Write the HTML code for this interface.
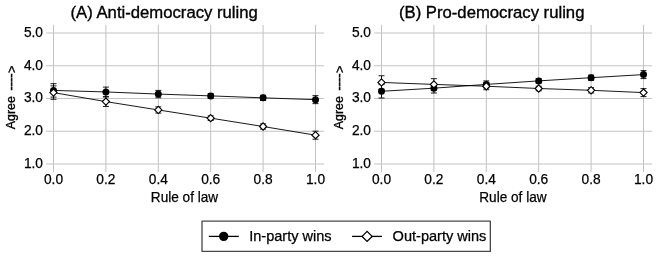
<!DOCTYPE html>
<html><head><meta charset="utf-8"><title>Figure</title>
<style>
html,body{margin:0;padding:0;background:#fff;overflow:hidden}
svg{display:block}
text{font-family:"Liberation Sans",sans-serif;fill:#000}
.g{stroke:#c3c3c3;stroke-width:1;fill:none}
.t{font-size:14.0px}
.a{font-size:14.5px}
.ya{font-size:12.7px;stroke-width:0.35px}
.ti{font-size:16.7px;stroke-width:0.35px}
.lg{font-size:14.55px}
text{stroke:#000;stroke-width:0.25px}
.ll{stroke:#000;stroke-width:1.3;fill:none}
.ld{stroke:#000;stroke-width:1.3;fill:#fff}
.l{stroke:#000;stroke-width:0.9;fill:none}
.e{stroke:#000;stroke-width:0.9;fill:none}
.d{stroke:#000;stroke-width:1.15;fill:#fff}
</style></head><body>
<svg width="657" height="256" viewBox="0 0 657 256">
<rect width="657" height="256" fill="#fff"/>
<line x1="46.00" y1="33.00" x2="324.00" y2="33.00" class="g"/>
<line x1="46.00" y1="65.75" x2="324.00" y2="65.75" class="g"/>
<line x1="46.00" y1="98.50" x2="324.00" y2="98.50" class="g"/>
<line x1="46.00" y1="131.25" x2="324.00" y2="131.25" class="g"/>
<line x1="46.00" y1="164.00" x2="324.00" y2="164.00" class="g"/>
<line x1="53.50" y1="24.80" x2="53.50" y2="172.10" class="g"/>
<line x1="105.90" y1="24.80" x2="105.90" y2="172.10" class="g"/>
<line x1="158.30" y1="24.80" x2="158.30" y2="172.10" class="g"/>
<line x1="210.70" y1="24.80" x2="210.70" y2="172.10" class="g"/>
<line x1="263.10" y1="24.80" x2="263.10" y2="172.10" class="g"/>
<line x1="315.50" y1="24.80" x2="315.50" y2="172.10" class="g"/>
<text x="43.00" y="36.95" class="t" text-anchor="end" textLength="19.1" lengthAdjust="spacingAndGlyphs">5.0</text>
<text x="43.00" y="69.70" class="t" text-anchor="end" textLength="19.1" lengthAdjust="spacingAndGlyphs">4.0</text>
<text x="43.00" y="102.45" class="t" text-anchor="end" textLength="19.1" lengthAdjust="spacingAndGlyphs">3.0</text>
<text x="43.00" y="135.20" class="t" text-anchor="end" textLength="19.1" lengthAdjust="spacingAndGlyphs">2.0</text>
<text x="43.00" y="167.95" class="t" text-anchor="end" textLength="19.1" lengthAdjust="spacingAndGlyphs">1.0</text>
<text x="53.50" y="183.65" class="t" text-anchor="middle" textLength="19.1" lengthAdjust="spacingAndGlyphs">0.0</text>
<text x="105.90" y="183.65" class="t" text-anchor="middle" textLength="19.1" lengthAdjust="spacingAndGlyphs">0.2</text>
<text x="158.30" y="183.65" class="t" text-anchor="middle" textLength="19.1" lengthAdjust="spacingAndGlyphs">0.4</text>
<text x="210.70" y="183.65" class="t" text-anchor="middle" textLength="19.1" lengthAdjust="spacingAndGlyphs">0.6</text>
<text x="263.10" y="183.65" class="t" text-anchor="middle" textLength="19.1" lengthAdjust="spacingAndGlyphs">0.8</text>
<text x="315.50" y="183.65" class="t" text-anchor="middle" textLength="19.1" lengthAdjust="spacingAndGlyphs">1.0</text>
<text x="184.50" y="201.75" class="a" text-anchor="middle" textLength="67.3" lengthAdjust="spacingAndGlyphs">Rule of law</text>
<text transform="translate(15.40,0) rotate(-90)" class="ya"><tspan x="-129.3" textLength="33.2" lengthAdjust="spacingAndGlyphs" style="font-size:13.2px">Agree</tspan> <tspan x="-90.4" dy="-0.9" style="stroke-width:0.5px">----</tspan><tspan x="-72.9" dy="1.4">&gt;</tspan></text>
<text x="164.20" y="17.6" class="ti" text-anchor="middle">(A) Anti-democracy ruling</text>
<path d="M53.50 83.70V97.12M50.50 83.70H56.50M50.50 97.12H56.50" class="e"/>
<path d="M105.90 87.10V96.80M102.90 87.10H108.90M102.90 96.80H108.90" class="e"/>
<path d="M158.30 90.41V97.75M155.30 90.41H161.30M155.30 97.75H161.30" class="e"/>
<path d="M210.70 93.59V98.17M207.70 93.59H213.70M207.70 98.17H213.70" class="e"/>
<path d="M263.10 95.22V100.47M260.10 95.22H266.10M260.10 100.47H266.10" class="e"/>
<path d="M315.50 95.65V103.64M312.50 95.65H318.50M312.50 103.64H318.50" class="e"/>
<polyline points="53.50,90.41 105.90,91.95 158.30,94.08 210.70,95.88 263.10,97.84 315.50,99.65" class="l"/>
<circle cx="53.50" cy="90.41" r="3.5" fill="#000"/>
<circle cx="105.90" cy="91.95" r="3.5" fill="#000"/>
<circle cx="158.30" cy="94.08" r="3.5" fill="#000"/>
<circle cx="210.70" cy="95.88" r="3.5" fill="#000"/>
<circle cx="263.10" cy="97.84" r="3.5" fill="#000"/>
<circle cx="315.50" cy="99.65" r="3.5" fill="#000"/>
<path d="M53.50 85.89V99.32M50.50 85.89H56.50M50.50 99.32H56.50" class="e"/>
<path d="M105.90 96.76V106.46M102.90 96.76H108.90M102.90 106.46H108.90" class="e"/>
<path d="M158.30 106.85V113.07M155.30 106.85H161.30M155.30 113.07H161.30" class="e"/>
<path d="M210.70 115.86V120.44M207.70 115.86H213.70M207.70 120.44H213.70" class="e"/>
<path d="M263.10 123.88V129.12M260.10 123.88H266.10M260.10 129.12H266.10" class="e"/>
<path d="M315.50 131.18V139.18M312.50 131.18H318.50M312.50 139.18H318.50" class="e"/>
<polyline points="53.50,92.60 105.90,101.61 158.30,109.96 210.70,118.15 263.10,126.50 315.50,135.18" class="l"/>
<path d="M53.50 89.00L57.10 92.60L53.50 96.20L49.90 92.60Z" class="d"/>
<path d="M105.90 98.01L109.50 101.61L105.90 105.21L102.30 101.61Z" class="d"/>
<path d="M158.30 106.36L161.90 109.96L158.30 113.56L154.70 109.96Z" class="d"/>
<path d="M210.70 114.55L214.30 118.15L210.70 121.75L207.10 118.15Z" class="d"/>
<path d="M263.10 122.90L266.70 126.50L263.10 130.10L259.50 126.50Z" class="d"/>
<path d="M315.50 131.58L319.10 135.18L315.50 138.78L311.90 135.18Z" class="d"/>
<line x1="374.00" y1="33.00" x2="652.00" y2="33.00" class="g"/>
<line x1="374.00" y1="65.75" x2="652.00" y2="65.75" class="g"/>
<line x1="374.00" y1="98.50" x2="652.00" y2="98.50" class="g"/>
<line x1="374.00" y1="131.25" x2="652.00" y2="131.25" class="g"/>
<line x1="374.00" y1="164.00" x2="652.00" y2="164.00" class="g"/>
<line x1="381.50" y1="24.80" x2="381.50" y2="172.10" class="g"/>
<line x1="433.90" y1="24.80" x2="433.90" y2="172.10" class="g"/>
<line x1="486.30" y1="24.80" x2="486.30" y2="172.10" class="g"/>
<line x1="538.70" y1="24.80" x2="538.70" y2="172.10" class="g"/>
<line x1="591.10" y1="24.80" x2="591.10" y2="172.10" class="g"/>
<line x1="643.50" y1="24.80" x2="643.50" y2="172.10" class="g"/>
<text x="371.00" y="36.95" class="t" text-anchor="end" textLength="19.1" lengthAdjust="spacingAndGlyphs">5.0</text>
<text x="371.00" y="69.70" class="t" text-anchor="end" textLength="19.1" lengthAdjust="spacingAndGlyphs">4.0</text>
<text x="371.00" y="102.45" class="t" text-anchor="end" textLength="19.1" lengthAdjust="spacingAndGlyphs">3.0</text>
<text x="371.00" y="135.20" class="t" text-anchor="end" textLength="19.1" lengthAdjust="spacingAndGlyphs">2.0</text>
<text x="371.00" y="167.95" class="t" text-anchor="end" textLength="19.1" lengthAdjust="spacingAndGlyphs">1.0</text>
<text x="381.50" y="183.65" class="t" text-anchor="middle" textLength="19.1" lengthAdjust="spacingAndGlyphs">0.0</text>
<text x="433.90" y="183.65" class="t" text-anchor="middle" textLength="19.1" lengthAdjust="spacingAndGlyphs">0.2</text>
<text x="486.30" y="183.65" class="t" text-anchor="middle" textLength="19.1" lengthAdjust="spacingAndGlyphs">0.4</text>
<text x="538.70" y="183.65" class="t" text-anchor="middle" textLength="19.1" lengthAdjust="spacingAndGlyphs">0.6</text>
<text x="591.10" y="183.65" class="t" text-anchor="middle" textLength="19.1" lengthAdjust="spacingAndGlyphs">0.8</text>
<text x="643.50" y="183.65" class="t" text-anchor="middle" textLength="19.1" lengthAdjust="spacingAndGlyphs">1.0</text>
<text x="512.90" y="201.75" class="a" text-anchor="middle" textLength="67.3" lengthAdjust="spacingAndGlyphs">Rule of law</text>
<text transform="translate(343.40,0) rotate(-90)" class="ya"><tspan x="-129.3" textLength="33.2" lengthAdjust="spacingAndGlyphs" style="font-size:13.2px">Agree</tspan> <tspan x="-90.4" dy="-0.9" style="stroke-width:0.5px">----</tspan><tspan x="-72.9" dy="1.4">&gt;</tspan></text>
<text x="491.70" y="17.6" class="ti" text-anchor="middle">(B) Pro-democracy ruling</text>
<path d="M381.50 84.58V98.01M378.50 84.58H384.50M378.50 98.01H384.50" class="e"/>
<path d="M433.90 83.34V93.03M430.90 83.34H436.90M430.90 93.03H436.90" class="e"/>
<path d="M486.30 80.91V87.92M483.30 80.91H489.30M483.30 87.92H489.30" class="e"/>
<path d="M538.70 78.59V83.17M535.70 78.59H541.70M535.70 83.17H541.70" class="e"/>
<path d="M591.10 75.08V80.32M588.10 75.08H594.10M588.10 80.32H594.10" class="e"/>
<path d="M643.50 70.60V78.59M640.50 70.60H646.50M640.50 78.59H646.50" class="e"/>
<polyline points="381.50,91.29 433.90,88.18 486.30,84.42 538.70,80.88 591.10,77.70 643.50,74.59" class="l"/>
<circle cx="381.50" cy="91.29" r="3.5" fill="#000"/>
<circle cx="433.90" cy="88.18" r="3.5" fill="#000"/>
<circle cx="486.30" cy="84.42" r="3.5" fill="#000"/>
<circle cx="538.70" cy="80.88" r="3.5" fill="#000"/>
<circle cx="591.10" cy="77.70" r="3.5" fill="#000"/>
<circle cx="643.50" cy="74.59" r="3.5" fill="#000"/>
<path d="M381.50 75.74V89.17M378.50 75.74H384.50M378.50 89.17H384.50" class="e"/>
<path d="M433.90 78.69V90.15M430.90 78.69H436.90M430.90 90.15H436.90" class="e"/>
<path d="M486.30 82.71V89.72M483.30 82.71H489.30M483.30 89.72H489.30" class="e"/>
<path d="M538.70 86.22V90.80M535.70 86.22H541.70M535.70 90.80H541.70" class="e"/>
<path d="M591.10 87.69V92.93M588.10 87.69H594.10M588.10 92.93H594.10" class="e"/>
<path d="M643.50 88.61V96.60M640.50 88.61H646.50M640.50 96.60H646.50" class="e"/>
<polyline points="381.50,82.45 433.90,84.42 486.30,86.22 538.70,88.51 591.10,90.31 643.50,92.60" class="l"/>
<path d="M381.50 78.85L385.10 82.45L381.50 86.05L377.90 82.45Z" class="d"/>
<path d="M433.90 80.82L437.50 84.42L433.90 88.02L430.30 84.42Z" class="d"/>
<path d="M486.30 82.62L489.90 86.22L486.30 89.82L482.70 86.22Z" class="d"/>
<path d="M538.70 84.91L542.30 88.51L538.70 92.11L535.10 88.51Z" class="d"/>
<path d="M591.10 86.71L594.70 90.31L591.10 93.91L587.50 90.31Z" class="d"/>
<path d="M643.50 89.00L647.10 92.60L643.50 96.20L639.90 92.60Z" class="d"/>

<rect x="202" y="221.15" width="288.35" height="30.3" fill="#fff" stroke="#484848" stroke-width="1.3" stroke-linejoin="round"/>
<line x1="208.8" y1="236.4" x2="238.8" y2="236.4" class="ll"/>
<circle cx="223.7" cy="236.35" r="4.7" fill="#000"/>
<text x="249.2" y="240.5" class="lg">In-party wins</text>
<line x1="352.1" y1="236.4" x2="381.9" y2="236.4" class="ll"/>
<path d="M367.1 231.4L372.1 236.4L367.1 241.4L362.1 236.4Z" class="ld"/>
<text x="392.6" y="240.5" class="lg">Out-party wins</text>

</svg>
</body></html>
